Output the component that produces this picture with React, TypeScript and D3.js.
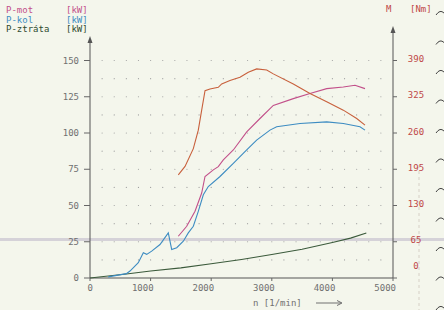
import React from "react";
import * as d3 from "d3";

// values
const rpmMot = [1457, 1596, 1733, 1843, 1898, 2035, 2117, 2200, 2365, 2586, 2805, 3025, 3355, 3630, 3906, 4180, 4373, 4538];
const pMot = [28.8, 35.7, 46, 58.6, 70, 74.6, 76.8, 81.4, 88.3, 100.8, 110, 119, 123.7, 127.2, 130.6, 131.7, 132.9, 130.6];

const rpmKol = [300, 600, 660, 797, 880, 936, 1018, 1155, 1292, 1348, 1431, 1540, 1622, 1705, 1787, 1870, 1952, 2145, 2365, 2586, 2750, 2970, 3080, 3465, 3906, 4180, 4455, 4538];
const pKol = [0.8, 3, 4.8, 10.6, 17.4, 16.3, 18.5, 23.1, 31.1, 19.7, 20.9, 25.4, 31.1, 35.7, 46, 57.4, 63.1, 70, 79.1, 88.3, 95.1, 102, 104.3, 106.6, 107.7, 106.6, 104.3, 102];

const rpmZtr = [0, 600, 1000, 1500, 2000, 2500, 3000, 3500, 4000, 4300, 4560];
const pZtr = [0, 2.8, 4.8, 7, 9.8, 12.8, 16.2, 19.8, 24.5, 27.5, 31];

const rpmM = [1457, 1568, 1705, 1787, 1843, 1898, 1980, 2117, 2173, 2310, 2475, 2612, 2750, 2916, 3025, 3355, 3630, 3906, 4180, 4401, 4538];
const torque = [185, 200, 232, 265, 301, 336, 339, 342, 348, 354, 360, 369, 375, 373, 366, 348, 331, 316, 301, 286, 274];

const kwTicks = [0, 25, 50, 75, 100, 125, 150];
const nmTicks = [0, 65, 130, 195, 260, 325, 390];
const rpmTicks = [0, 1000, 2000, 3000, 4000, 5000];

const legend = [
  { name: "P-mot", unit: "[kW]", color: "#c2508a" },
  { name: "P-kol", unit: "[kW]", color: "#3d8cc2" },
  { name: "P-ztráta", unit: "[kW]", color: "#2f4a2f" },
];

const W = 444;
const H = 310;
const mono = "'DejaVu Sans Mono', 'Liberation Mono', monospace";

export default function App() {
  const x = d3.scaleLinear().domain([0, 5000]).range([90, 393]);
  const y = d3.scaleLinear().domain([0, 150]).range([278, 60.5]);
  const yNm = d3.scaleLinear().domain([0, 390]).range([278, 60.5]);

  const kwLine = (rpm: number[], vals: number[]) =>
    d3.line<number>().x((d, i) => x(rpm[i])).y((d) => y(d))(vals) || "";
  const nmLine = d3.line<number>().x((d, i) => x(rpmM[i])).y((d) => yNm(d))(torque) || "";

  // dotted grid every 200 rpm / 12.5 kW
  const dots: [number, number][] = [];
  d3.range(200, 4801, 200).forEach((r) =>
    d3.range(12.5, 150.1, 12.5).forEach((k) => dots.push([x(r), y(k)]))
  );

  const hooks = d3.range(0, 11).map((i) => 12 + i * 29.5);

  return (
    <svg width={W} height={H} style={{ position: "absolute", left: 0, top: 0 }}>
      <rect width={W} height={H} fill="#f4f6ec" />

      {/* paper artefacts */}
      <line x1={0} x2={W} y1={239.5} y2={239.5} stroke="#bdb5c8" strokeWidth={3} opacity={0.55} />
      <line x1={419} x2={419} y1={165} y2={H} stroke="#cfc8be" strokeDasharray="3,3" strokeWidth={0.8} />
      {hooks.map((hy, i) => (
        <path key={i} d={`M436,${hy + 3} Q440,${hy - 3} 444,${hy + 1}`} fill="none" stroke="#444" strokeWidth={1} />
      ))}

      {dots.map(([dx, dy], i) => (
        <circle key={i} cx={dx} cy={dy} r={0.6} fill="#a0a0a0" />
      ))}

      {/* axes */}
      <line x1={x(0)} x2={x(0)} y1={y(0)} y2={40} stroke="#555" strokeWidth={1} />
      <path d={`M${x(0)},36 L${x(0) - 2.5},43 L${x(0) + 2.5},43 Z`} fill="#555" />
      <line x1={x(5000)} x2={x(5000)} y1={y(0)} y2={30} stroke="#555" strokeWidth={1} />
      <path d={`M${x(5000)},26 L${x(5000) - 2.5},33 L${x(5000) + 2.5},33 Z`} fill="#555" />
      <line x1={x(0)} x2={x(5000)} y1={y(0)} y2={y(0)} stroke="#555" strokeWidth={1} />

      {kwTicks.map((t) => (
        <g key={t}>
          <line x1={x(0) - 6} x2={x(0)} y1={y(t)} y2={y(t)} stroke="#666" />
          <text x={79} y={y(t)} dy="0.35em" textAnchor="end" fontFamily={mono} fontSize={9} fill="#707070">
            {t}
          </text>
        </g>
      ))}
      {nmTicks.map((t) => (
        <g key={t}>
          <line x1={x(5000)} x2={x(5000) + 4} y1={yNm(t)} y2={yNm(t)} stroke="#666" />
          <text x={416} y={t === 0 ? 266 : yNm(t) - 1.5} dy="0.35em" textAnchor="middle" fontFamily={mono} fontSize={9} fill="#c04848">
            {t}
          </text>
        </g>
      ))}
      {rpmTicks.map((t) => (
        <g key={t}>
          <line x1={x(t)} x2={x(t)} y1={y(0)} y2={y(0) + 3} stroke="#666" />
          <text x={x(t) + 3} y={288} dy="0.35em" textAnchor="end" fontFamily={mono} fontSize={9} fill="#707070">
            {t}
          </text>
        </g>
      ))}
      <text x={253} y={303} dy="0.35em" fontFamily={mono} fontSize={9} fill="#707070">
        n [1/min]
      </text>
      <line x1={316} x2={341} y1={303} y2={303} stroke="#707070" />
      <path d="M337,300.5 L342,303 L337,305.5" fill="none" stroke="#707070" />

      {/* legend */}
      {legend.map((l, i) => (
        <g key={l.name} fontFamily={mono} fontSize={9} fill={l.color}>
          <text x={6} y={10 + i * 9.5} dy="0.35em">{l.name}</text>
          <text x={66} y={10 + i * 9.5} dy="0.35em">{l.unit}</text>
        </g>
      ))}
      <g fontFamily={mono} fontSize={9} fill="#c04848">
        <text x={386} y={9} dy="0.35em">M</text>
        <text x={410} y={9} dy="0.35em">[Nm]</text>
      </g>

      {/* curves */}
      <path d={kwLine(rpmZtr, pZtr)} fill="none" stroke="#3b5a3b" strokeWidth={1.1} />
      <path d={kwLine(rpmKol, pKol)} fill="none" stroke="#3d8cc2" strokeWidth={1.1} />
      <path d={kwLine(rpmMot, pMot)} fill="none" stroke="#c2508a" strokeWidth={1.1} />
      <path d={nmLine} fill="none" stroke="#c8603c" strokeWidth={1.1} />
    </svg>
  );
}
